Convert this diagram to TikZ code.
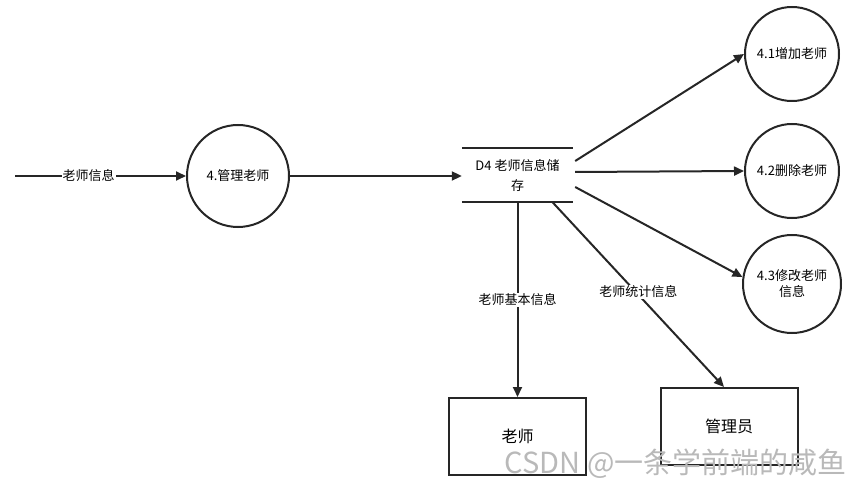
\documentclass[tikz,border=0pt]{standalone}
\usepackage{fontspec}
\setmainfont{Noto Sans CJK SC}
\usetikzlibrary{arrows.meta,calc}
\begin{document}
\begin{tikzpicture}[x=1pt,y=-1pt,
  proc/.style={circle,draw=black!85,line width=2pt,minimum size=#1,inner sep=1pt,align=center,font=\fontsize{13}{16}\selectfont},
  ent/.style={draw=black!85,line width=2pt,minimum width=137,minimum height=77,font=\fontsize{16}{19}\selectfont},
  flow/.style={draw=black!85,line width=2pt,-{Triangle[length=10pt,width=9pt]}},
  lbl/.style={fill=white,inner sep=1pt,font=\fontsize{13}{16}\selectfont},
  line/.style={draw=black!85,line width=2pt}]
\useasboundingbox (0,0) rectangle (865,489);
\node[proc=102] (c4) at (238,176) {4.管理老师};
\node[proc=94] (c41) at (792,54) {4.1增加老师};
\node[proc=94] (c42) at (792,171) {4.2删除老师};
\node[proc=98] (c43) at (792,284) {4.3修改老师\\信息};
\node[minimum width=111,minimum height=54,inner sep=0pt,align=center,font=\fontsize{13}{20}\selectfont] (d4) at (517.5,175) {D4 老师信息储\\存};
\draw[line] (d4.north west) -- (d4.north east);
\draw[line] (d4.south west) -- (d4.south east);
\node[ent] (t) at (517.5,436.5) {老师};
\node[ent] (a) at (729,426.5) {管理员};
\coordinate (in) at (15,176);
\draw[flow] (in) -- node[lbl,pos=0.43] {老师信息} (c4);
\draw[flow] (c4) -- (d4.west |- c4);
\draw[flow] ($(d4.east)+(2,-14)$) -- (c41.west);
\draw[flow] ($(d4.east)+(2,-3)$) -- (c42.west);
\draw[flow] ($(d4.east)+(2,12)$) -- (c43.172);
\draw[flow] (d4.south) -- node[lbl,pos=0.5] {老师基本信息} (t.north);
\draw[flow] ($(d4.south)+(35,0)$) -- node[lbl,pos=0.5,yshift=3] {老师统计信息} ($(a.north)+(-5,0)$);
\node[text=gray!55,font=\fontsize{29}{33}\selectfont,anchor=east] (wm) at (850,464) {CSDN @一条学前端的咸鱼};
\end{tikzpicture}
\end{document}
